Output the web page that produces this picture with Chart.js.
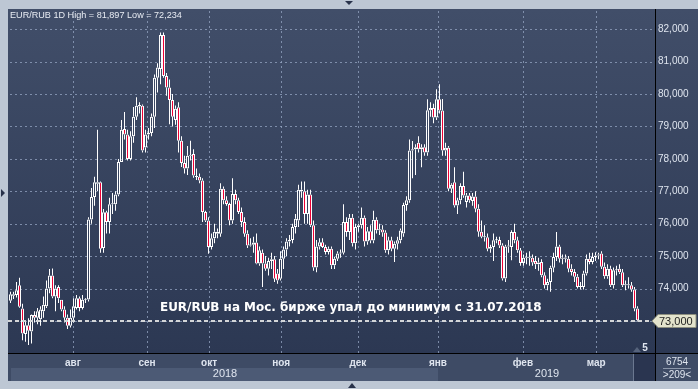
<!DOCTYPE html>
<html>
<head>
<meta charset="utf-8">
<script src="https://cdn.jsdelivr.net/npm/chart.js@4.4.1/dist/chart.umd.min.js"></script>
<style>
  html, body { margin: 0; padding: 0; background: #bdc7d4; }
  canvas { display: block; }
</style>
</head>
<body>
<canvas id="chart" width="698" height="389"></canvas>
<script>
// EUR/RUB daily candles (one per bar, oldest first)
const opens = [
  73.62,73.78,73.80,74.10,73.38,72.60,72.87,72.67,73.18,73.10,
  73.05,73.30,73.45,74.00,74.40,73.75,74.05,73.65,73.35,73.10,
  72.85,73.10,73.40,73.70,73.40,73.65,73.66,76.13,76.82,77.23,
  77.28,75.25,76.35,76.05,76.60,76.60,76.90,77.90,78.92,78.75,
  78.00,78.70,79.30,79.62,79.64,78.35,78.75,78.80,79.30,80.50,
  80.77,81.82,80.56,80.20,79.82,79.20,79.59,78.56,77.87,77.70,
  78.10,78.15,77.44,77.45,77.33,76.36,76.10,75.28,75.55,75.75,
  75.69,77.08,76.72,76.61,76.10,76.92,76.72,76.36,76.05,75.69,
  75.33,75.35,75.42,74.77,75.10,74.77,74.61,74.85,74.90,74.46,
  74.30,74.92,75.20,75.45,75.50,75.90,76.10,77.00,77.00,76.30,
  76.90,75.95,74.65,75.30,75.43,75.28,75.13,75.23,74.72,74.92,
  75.08,75.10,76.05,75.74,76.18,75.40,75.90,75.95,76.18,75.45,
  75.77,75.48,76.12,75.80,75.82,75.73,75.18,75.49,75.23,75.38,
  75.49,75.70,76.58,76.72,78.26,78.30,78.50,78.30,78.36,78.20,
  79.50,79.57,79.28,79.84,79.49,78.26,78.34,77.08,77.28,76.56,
  76.72,77.16,76.67,76.87,76.70,76.84,76.46,75.75,75.60,75.58,
  75.23,75.28,75.49,75.50,75.33,74.31,75.30,75.28,75.74,75.49,
  75.18,74.79,74.95,74.97,74.95,74.85,74.75,74.82,74.41,74.10,
  74.20,74.64,74.97,75.30,74.92,74.92,74.92,74.61,74.51,74.36,
  74.05,74.05,74.46,74.92,74.82,74.97,75.02,75.08,74.67,74.38,
  74.61,74.10,74.56,74.61,74.50,74.10,74.12,74.10,73.97,73.38
];
const highs = [
  73.90,73.90,74.20,74.33,73.53,72.97,73.08,73.20,73.30,73.40,
  73.45,73.75,74.25,74.60,74.62,74.10,74.10,73.65,73.45,73.20,
  73.35,73.70,73.80,73.75,73.80,73.70,76.20,77.10,77.45,78.90,
  77.30,76.45,76.40,76.80,76.95,77.00,78.00,79.20,79.45,78.90,
  78.85,79.60,79.90,79.75,79.68,78.90,78.95,79.40,80.60,80.95,
  81.90,81.897,80.65,80.45,80.00,79.65,79.75,78.70,78.10,78.40,
  78.56,78.30,77.70,77.55,77.40,76.40,76.20,75.70,76.00,75.85,
  77.25,77.15,76.85,76.65,77.40,77.05,76.80,76.50,76.20,75.80,
  75.55,75.60,75.70,75.30,75.20,75.00,74.95,75.10,75.00,74.60,
  75.15,75.30,75.55,75.65,76.00,76.30,77.20,77.30,77.30,77.05,
  77.05,76.10,75.50,75.55,75.55,75.35,75.30,75.30,74.98,75.15,
  75.20,76.60,76.20,76.30,76.30,76.00,76.00,76.50,76.25,75.90,
  75.95,76.40,76.20,76.00,75.95,75.80,75.60,75.60,75.45,75.60,
  75.85,76.65,76.85,78.60,78.55,78.45,78.70,78.45,78.45,79.84,
  79.75,79.70,80.15,80.30,79.85,78.50,78.40,77.25,77.74,76.80,
  77.25,77.60,76.95,76.95,76.95,77.00,76.60,76.10,75.95,75.70,
  75.35,75.70,75.60,75.60,75.40,75.35,75.50,75.80,76.00,75.60,
  75.25,75.05,75.10,75.15,75.05,75.00,74.95,74.90,74.50,74.30,
  74.70,75.10,75.74,75.35,75.05,75.05,75.00,74.75,74.60,74.45,
  74.20,74.55,75.05,75.10,75.10,75.12,75.10,75.15,74.80,74.75,
  74.70,74.65,74.70,74.75,74.60,74.25,74.35,74.20,74.05,73.45
];
const lows = [
  73.55,73.68,73.72,73.41,72.40,72.36,72.26,72.30,72.95,72.90,
  72.85,73.10,73.40,73.85,73.70,73.30,73.55,73.30,72.95,72.75,
  72.80,72.95,73.35,73.30,73.35,73.55,73.60,76.00,76.55,77.00,
  75.10,75.10,75.70,75.70,76.30,76.40,76.85,77.90,78.60,77.95,
  77.95,78.50,79.20,79.40,78.20,78.20,78.60,78.70,78.95,80.05,
  80.30,80.50,79.95,79.07,79.00,79.05,78.20,77.75,77.55,77.50,
  77.95,77.42,77.35,77.25,76.05,76.05,75.07,75.20,75.40,75.55,
  75.60,76.60,76.55,75.95,76.00,76.60,76.30,75.90,75.60,75.25,
  75.30,75.10,74.75,74.70,74.05,74.55,74.40,74.60,74.20,74.15,
  74.25,74.60,75.00,75.30,75.40,75.70,75.90,76.80,76.00,76.00,
  75.90,74.55,74.50,75.20,75.25,75.05,75.05,74.60,74.60,74.85,
  74.95,75.05,75.60,75.50,75.30,75.20,75.75,75.85,75.30,75.35,
  75.40,75.40,75.70,75.65,75.60,75.10,75.05,75.15,74.82,75.20,
  75.40,75.60,76.40,76.65,77.40,77.50,78.20,77.74,78.10,78.10,
  79.30,79.10,79.20,79.40,78.10,78.10,77.00,76.95,76.50,76.30,
  76.60,76.80,76.50,76.65,76.55,76.35,75.60,75.55,75.45,75.15,
  75.10,74.85,75.40,75.25,74.25,74.20,75.10,74.87,75.40,75.10,
  74.70,74.70,74.75,74.70,74.70,74.60,74.55,74.35,74.00,73.95,
  73.90,74.50,74.85,74.80,74.75,74.80,74.50,74.40,74.20,74.00,
  73.98,73.97,74.40,74.75,74.75,74.85,74.90,74.60,74.30,74.30,
  74.05,74.00,74.40,74.45,74.05,73.95,74.00,73.90,73.30,72.98
];
const closes = [
  73.82,73.82,73.95,73.44,72.61,72.87,72.70,73.18,73.10,73.30,
  73.35,73.50,74.00,74.40,73.75,74.00,73.70,73.35,73.10,72.85,
  73.10,73.45,73.70,73.40,73.65,73.66,76.13,76.82,77.28,77.28,
  75.23,76.35,76.05,76.60,76.62,76.90,77.90,78.90,78.75,78.00,
  78.70,79.30,79.64,79.66,78.26,78.75,78.80,79.30,80.50,80.82,
  81.82,80.56,80.20,79.82,79.30,79.55,78.56,77.87,77.70,78.10,
  78.12,77.49,77.46,77.33,76.36,76.10,75.28,75.55,75.75,75.69,
  77.08,76.72,76.61,76.10,76.92,76.72,76.36,76.05,75.69,75.33,
  75.35,75.42,74.77,75.18,74.77,74.61,74.85,74.90,74.30,74.25,
  74.92,75.20,75.45,75.50,75.90,76.15,77.05,77.05,76.30,76.90,
  75.95,74.65,75.30,75.43,75.28,75.13,75.23,74.72,74.92,75.08,
  75.10,76.05,75.74,76.18,75.40,75.90,75.95,76.18,75.45,75.77,
  75.48,76.12,75.80,75.82,75.73,75.18,75.49,75.23,75.38,75.49,
  75.79,76.58,76.72,78.26,78.30,78.36,78.30,78.36,78.20,79.50,
  79.57,79.28,79.84,79.49,78.26,78.34,77.08,77.20,76.56,76.72,
  77.16,76.87,76.87,76.72,76.84,76.46,75.75,75.60,75.58,75.23,
  75.28,75.49,75.50,75.33,74.31,75.30,75.32,75.74,75.49,75.18,
  74.79,74.95,74.97,74.95,74.80,74.75,74.80,74.41,74.10,74.20,
  74.64,74.97,75.30,74.92,74.95,74.96,74.61,74.51,74.36,74.05,
  74.08,74.46,74.92,74.82,74.97,75.02,75.05,74.67,74.38,74.61,
  74.10,74.56,74.58,74.50,74.10,74.12,74.10,73.97,73.38,73.02
];

// month gridlines sit between bars; positions are in bar index units
const monthLabels = ["авг", "сен", "окт", "ноя", "дек", "янв", "фев", "мар"];
const monthPos = [20.8, 45.5, 66.2, 90.2, 115.8, 142.5, 170.8, 195.2];
const yearLabels = ["2018", "2019"];
const priceTicks = [73, 74, 75, 76, 77, 78, 79, 80, 81, 82];
const lastPrice = 73.0;

const fmt = (v) => v.toFixed(3).replace(".", ",");

// candle pieces: body plus the two wick halves
const bodies = opens.map((o, i) => ({ x: i, y: [Math.min(o, closes[i]), Math.max(o, closes[i])] }));
const upperWicks = opens.map((o, i) => ({ x: i, y: [Math.max(o, closes[i]), highs[i]] }));
const lowerWicks = opens.map((o, i) => ({ x: i, y: [lows[i], Math.min(o, closes[i])] }));

const RED = "#ee0035";
const WHITE = "#ffffff";
const GRID = "rgba(150,165,195,0.75)";

// dotted grid, drawn from the scale ticks (x: month gaps, y: whole rubles)
function drawGrid(chart) {
  const { ctx, chartArea: a, scales } = chart;
  ctx.save();
  ctx.fillStyle = GRID;
  scales.x.ticks.forEach((t, i) => {
    const px = Math.round(scales.x.getPixelForTick(i));
    for (let yy = a.top + 2; yy < a.bottom; yy += 5) ctx.fillRect(px, yy, 1, 2);
  });
  scales.y.ticks.forEach((t, i) => {
    const py = Math.round(scales.y.getPixelForTick(i));
    for (let xx = a.left + 2; xx < a.right; xx += 5) ctx.fillRect(xx, py, 2, 1);
  });
  ctx.restore();
}

// frame, panels and axis bands
const panels = {
  id: "panels",
  beforeDraw(chart) {
    const { ctx, chartArea: a } = chart;
    ctx.save();
    ctx.fillStyle = "#bdc7d4";
    ctx.fillRect(0, 0, 698, 389);
    const g = ctx.createLinearGradient(0, a.top, 0, a.bottom);
    g.addColorStop(0, "#414e69");
    g.addColorStop(1, "#2c3853");
    ctx.fillStyle = g;
    ctx.fillRect(a.left, a.top, 698 - a.left, a.bottom - a.top);
    // time axis rows
    ctx.fillStyle = "#3e4b65";
    ctx.fillRect(a.left, a.bottom, 698 - a.left, 381 - a.bottom);
    ctx.fillStyle = "#4c5a75";
    ctx.fillRect(11, 368, 427, 13);
    // scroller box
    ctx.fillStyle = "#2a3550";
    ctx.fillRect(633, a.bottom + 1, 22, 381 - a.bottom - 1);
    ctx.fillStyle = "#6b7890";
    ctx.fillRect(633, a.bottom + 1, 1, 381 - a.bottom - 1);
    ctx.restore();
    drawGrid(chart);
  },
  afterDatasetsDraw(chart) {
    const { ctx, chartArea: a, scales } = chart;
    const y = Math.round(scales.y.getPixelForValue(lastPrice));
    ctx.save();
    ctx.strokeStyle = "#d4d6d8";
    ctx.lineWidth = 2;
    ctx.setLineDash([4, 3]);
    ctx.beginPath();
    ctx.moveTo(a.left, y);
    ctx.lineTo(a.right - 2, y);
    ctx.stroke();
    ctx.restore();
  },
  afterDraw(chart) {
    const { ctx, chartArea: a, scales } = chart;
    ctx.save();
    // black axis borders
    ctx.fillStyle = "#000";
    ctx.fillRect(a.right, a.top, 1, 381 - a.top);
    ctx.fillRect(a.left, a.bottom, 698 - a.left, 1);

    // last price tag
    const y = Math.round(scales.y.getPixelForValue(lastPrice));
    ctx.fillStyle = "#e3e3cc";
    ctx.strokeStyle = "#8d8f80";
    ctx.lineWidth = 1;
    ctx.beginPath();
    ctx.moveTo(652, y);
    ctx.lineTo(658, y - 6.5);
    ctx.lineTo(696, y - 6.5);
    ctx.lineTo(696, y + 6.5);
    ctx.lineTo(658, y + 6.5);
    ctx.closePath();
    ctx.fill();
    ctx.stroke();
    ctx.fillStyle = "#1e1e1e";
    ctx.font = "11px 'Liberation Sans'";
    ctx.textBaseline = "middle";
    ctx.textAlign = "left";
    ctx.fillText(fmt(lastPrice), 659, y + 0.5);

    // title in the top-left corner
    ctx.fillStyle = "#e8ecf3";
    ctx.font = "11px 'Liberation Sans'";
    const title = "EUR/RUB 1D High = 81,897 Low = 72,234";
    const tw = ctx.measureText(title).width;
    ctx.font = (11 * 172 / tw).toFixed(2) + "px 'Liberation Sans'";
    ctx.fillText(title, 10, 15);

    // caption over the chart
    const cap = "EUR/RUB на Мос. бирже упал до минимум с 31.07.2018";
    ctx.font = "bold 13px 'DejaVu Sans'";
    const cw = ctx.measureText(cap).width;
    ctx.font = "bold " + (13 * 382 / cw).toFixed(2) + "px 'DejaVu Sans'";
    ctx.fillStyle = "#ffffff";
    ctx.fillText(cap, 160, 308);

    // year row
    ctx.font = "11px 'Liberation Sans'";
    ctx.textAlign = "center";
    ctx.fillStyle = "#dfe5ef";
    ctx.fillText(yearLabels[0], 225, 374);
    ctx.fillText(yearLabels[1], 547, 374);

    // bottom right counter cell
    ctx.font = "10px 'Liberation Sans'";
    ctx.fillText("6754", 677, 362);
    ctx.fillStyle = "#8c97aa";
    ctx.fillRect(663, 368, 28, 1);
    ctx.fillStyle = "#dfe5ef";
    ctx.fillText(">209<", 677, 375);

    // volume pane stub
    ctx.font = "bold 10px 'Liberation Sans'";
    ctx.fillText("5", 645, 348);
    ctx.fillStyle = "#56637c";
    ctx.beginPath();
    ctx.moveTo(633, 352); ctx.lineTo(637, 347); ctx.lineTo(641, 352);
    ctx.closePath(); ctx.fill();

    // little frame arrows
    ctx.fillStyle = "#28324a";
    ctx.beginPath();
    ctx.moveTo(345, 1); ctx.lineTo(353, 1); ctx.lineTo(349, 5); ctx.closePath(); ctx.fill();
    ctx.beginPath();
    ctx.moveTo(348, 388); ctx.lineTo(356, 388); ctx.lineTo(352, 383); ctx.closePath(); ctx.fill();
    ctx.beginPath();
    ctx.moveTo(1, 189); ctx.lineTo(1, 197); ctx.lineTo(5, 193); ctx.closePath(); ctx.fill();
    ctx.restore();
  }
};

const candleCommon = {
  grouped: false,
  borderSkipped: false,
  inflateAmount: 0,
};

new Chart(document.getElementById("chart"), {
  type: "bar",
  data: {
    datasets: [
      {
        ...candleCommon,
        label: "body",
        data: bodies,
        barThickness: 3,
        minBarLength: 1,
        borderWidth: 1,
        borderColor: WHITE,
        backgroundColor: (c) => (closes[c.dataIndex] < opens[c.dataIndex] ? RED : "rgba(0,0,0,0)"),
      },
      {
        ...candleCommon,
        label: "upper wick",
        data: upperWicks,
        barThickness: 1,
        borderWidth: 0,
        backgroundColor: WHITE,
      },
      {
        ...candleCommon,
        label: "lower wick",
        data: lowerWicks,
        barThickness: 1,
        borderWidth: 0,
        backgroundColor: WHITE,
      },
    ],
  },
  options: {
    responsive: false,
    animation: false,
    events: [],
    layout: { padding: { left: 8, top: 8, right: 0, bottom: 0 } },
    plugins: { legend: { display: false }, tooltip: { enabled: false } },
    scales: {
      x: {
        type: "linear",
        offset: false,
        min: -0.8333,
        max: -0.8333 + 647 / 3,
        afterBuildTicks: (scale) => {
          scale.ticks = monthPos.map((v) => ({ value: v }));
        },
        afterFit: (scale) => {
          scale.height = 36;
        },
        ticks: {
          autoSkip: false,
          maxRotation: 0,
          padding: 4,
          color: "#dfe5ef",
          font: { family: "Liberation Sans", size: 10, weight: "bold" },
          callback: (v, i) => monthLabels[i],
        },
        grid: { display: false, drawTicks: false },
        border: { display: false },
      },
      y: {
        position: "right",
        min: 72.01,
        max: 82.625,
        afterBuildTicks: (scale) => {
          scale.ticks = priceTicks.map((v) => ({ value: v }));
        },
        afterFit: (scale) => {
          scale.width = 43;
        },
        ticks: {
          padding: 3,
          color: "#dfe5ef",
          font: { family: "Liberation Sans", size: 10 },
          // the 73,000 slot is covered by the last-price tag
          callback: (v) => (v === lastPrice ? "" : fmt(v)),
        },
        grid: { display: false, drawTicks: false },
        border: { display: false },
      },
    },
  },
  plugins: [panels],
});
</script>
</body>
</html>
